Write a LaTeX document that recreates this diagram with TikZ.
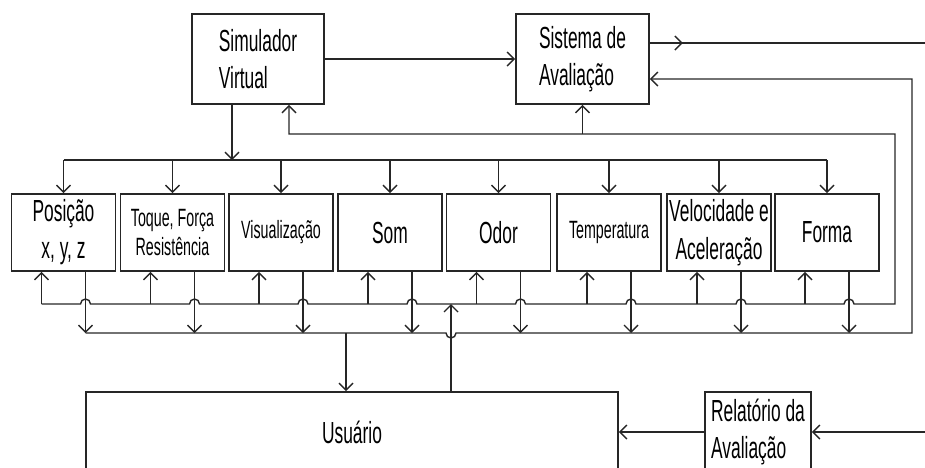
\documentclass[tikz,border=0pt]{standalone}
\usepackage{fontspec}
\setmainfont{Liberation Sans}[FakeStretch=0.57]
\usepackage{tikz}
\usetikzlibrary{arrows.meta}

\tikzset{
	bloco/.style={draw=black!85, line width=1.6pt, inner sep=0pt, align=center, font=\fontsize{30.5}{37}\selectfont},
	sensor/.style={bloco, minimum width=104pt, minimum height=77pt},
	miudo/.style={font=\fontsize{25}{29}\selectfont},
	linha/.style={draw=black!85, line width=1.4pt},
	seta/.style={linha, -{Straight Barb[length=7pt,width=14pt,line width=1.4pt]}},
}

\begin{document}
\begin{tikzpicture}[x=1pt,y=-1pt]
%1. 画布范围
\useasboundingbox (0,0) rectangle (925,467);
\clip (0,0) rectangle (925,467);
%2. 主要方框
\node[bloco, minimum width=132pt, minimum height=90pt, align=left] (sim) at (258,59) {Simulador\\Virtual};
\node[bloco, minimum width=133pt, minimum height=90pt, align=left] (sis) at (582.5,59) {Sistema de\\Avaliação};
\node[sensor] (pos) at (63.5,232.5) {Posição\\x, y, z};
\node[sensor, miudo] (toq) at (172.5,232.5) {Toque, Força\\Resistência};
\node[sensor, miudo] (vis) at (281,232.5) {Visualização};
\node[sensor] (som) at (390,232.5) {Som};
\node[sensor] (odo) at (498.5,232.5) {Odor};
\node[sensor, miudo] (tem) at (609,232.5) {Temperatura};
\node[sensor, font=\fontsize{30.5}{38}\selectfont] (vel) at (719,232.5) {Velocidade e\\Aceleração};
\node[sensor] (frm) at (827,232.5) {Forma};
\node[bloco, minimum width=532pt, minimum height=80pt] (usr) at (352,432) {Usuário};
\node[bloco, minimum width=106pt, minimum height=80pt, align=left] (rel) at (758,432) {Relatório da\\Avaliação};
%3. 标记重要的点
\coordinate (saida) at (925,43);
\coordinate (entrada) at (925,432);
\coordinate (dist) at (0,160);
\coordinate (cima) at (0,304);
\coordinate (baixo) at (0,333);
\coordinate (dir1) at (895,134);
\coordinate (dir2) at (912,79);
\coordinate (sim-dn) at ([xshift=-26pt]sim.south);
\coordinate (sim-up) at ([xshift=31pt]sim.south);
\coordinate (usr-up) at ([xshift=99pt]usr.north);
\coordinate (usr-dn) at ([xshift=-6pt]usr.north);
\coordinate (usr-h) at (usr-up |- baixo);
%4. 上方连线
\draw[seta] (sim) -- (sis);
\draw[seta] ([yshift=16pt]sis.east) -- ++(33pt,0);
\draw[linha] ([yshift=16pt]sis.east) -- (saida);
\draw[seta] (sim-dn) -- (sim-dn |- dist);
\draw[linha] (pos.north |- dist) -- (frm.north |- dist);
\foreach \b in {pos,toq,vis,som,odo,tem,vel,frm}
	{\draw[seta] (\b.north |- dist) -- (\b.north);
	\coordinate (\b-up) at ([xshift=-22pt]\b.south);
	\coordinate (\b-dn) at ([xshift=22pt]\b.south);
	\coordinate (\b-h) at (\b-dn |- cima);
	\draw[seta] (\b-up |- cima) -- (\b-up);
	\draw[seta] (\b-dn) -- (\b-dn |- baixo);
	}
%5. 反馈总线
\draw[seta] (pos-up |- cima) foreach \b in {pos,toq,vis,som,odo,tem,vel,frm}
	{ -- ([xshift=-5pt]\b-h) arc[start angle=180, end angle=0, radius=5pt] }
	-- (dir1 |- cima) -- (dir1) -- (sim-up |- dir1) -- (sim-up);
\draw[seta] (sis.south |- dir1) -- (sis.south);
\draw[seta] (pos-dn |- baixo) -- ([xshift=-5pt]usr-h) arc[start angle=180, end angle=360, radius=5pt]
	-- (dir2 |- baixo) -- (dir2) -- ([yshift=-20pt]sis.east);
%6. 用户与报告
\draw[seta] (usr-dn |- baixo) -- (usr-dn);
\draw[seta] (usr-up) -- (usr-up |- cima);
\draw[seta] (entrada) -- (rel);
\draw[seta] (rel) -- (usr);
\end{tikzpicture}
\end{document}
